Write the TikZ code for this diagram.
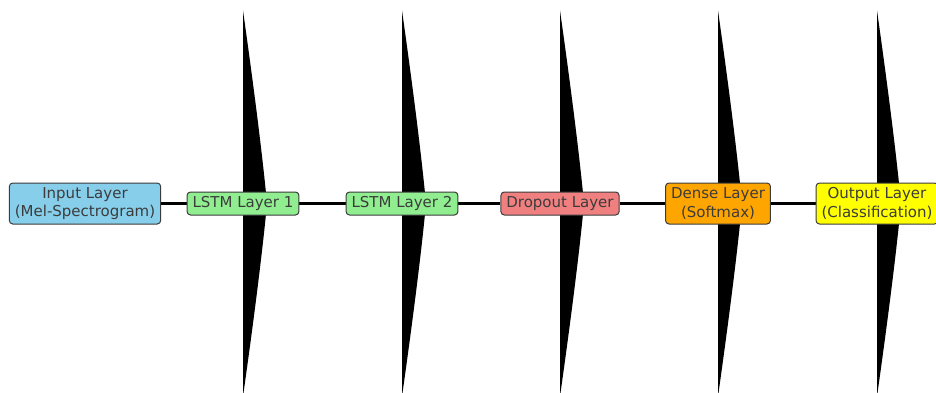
\documentclass[tikz,border=0pt]{standalone}
\usepackage{fontspec}
\setmainfont{DejaVu Sans}
\usetikzlibrary{backgrounds}
\definecolor{skyb}{HTML}{87CEEB}
\definecolor{lgreen}{HTML}{90EE90}
\definecolor{lcoral}{HTML}{F08080}
\definecolor{orng}{HTML}{FFA500}
\definecolor{yell}{HTML}{FFFF00}
\definecolor{ink}{HTML}{3C3C3C}
\tikzset{
  layerbox/.style={draw=ink, line width=1pt, rounded corners=3.5pt, text=ink,
    font=\fontsize{15pt}{18.5pt}\selectfont, align=center,
    inner xsep=5.5pt, inner ysep=0pt, minimum height=23pt},
  tallbox/.style={layerbox, minimum height=41pt},
  link/.style={line width=2.2pt, black},
  wedge/.style={fill=black}
}
% tall black wedge centred on a node, pointing right
\newcommand{\wedgeat}[1]{%
  \fill[wedge, shift={(#1.center)}] (0,-193) .. controls (12,-108) and (20,-43) .. (24,0)
    .. controls (20,43) and (12,108) .. (0,193) -- cycle;}
\begin{document}
\begin{tikzpicture}[x=1pt, y=-1pt]
\useasboundingbox (0,0) rectangle (936,393);
\path[clip] (0,0) rectangle (936,393);
\node[tallbox, fill=skyb] (inp) at (85,203.5) {Input Layer\\(Mel-Spectrogram)};
\node[layerbox, fill=lgreen] (l1) at (243,203.5) {LSTM Layer 1};
\node[layerbox, fill=lgreen] (l2) at (402,203.5) {LSTM Layer 2};
\node[layerbox, fill=lcoral] (dr) at (560,203.5) {Dropout Layer};
\node[tallbox, fill=orng] (de) at (718,203.5) {Dense Layer\\(Softmax)};
\node[tallbox, fill=yell] (out) at (877,203.5) {Output Layer\\(Classification)};
\begin{pgfonlayer}{background}
  \draw[link] (inp.east) -- (l1.west);
  \draw[link] (l1.east) -- (l2.west);
  \draw[link] (l2.east) -- (dr.west);
  \draw[link] (dr.east) -- (de.west);
  \draw[link] (de.east) -- (out.west);
  \wedgeat{l1}
  \wedgeat{l2}
  \wedgeat{dr}
  \wedgeat{de}
  \wedgeat{out}
\end{pgfonlayer}
\end{tikzpicture}
\end{document}
